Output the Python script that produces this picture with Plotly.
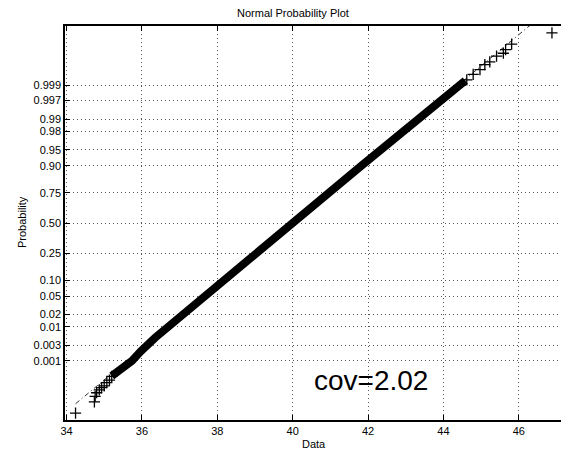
import plotly.graph_objects as go
from statistics import NormalDist

nd = NormalDist()

# ---- data ----
prob_ticks = [0.001, 0.003, 0.01, 0.02, 0.05, 0.10, 0.25, 0.50, 0.75, 0.90, 0.95, 0.98, 0.99, 0.997, 0.999]
prob_labels = ["0.001", "0.003", "0.01", "0.02", "0.05", "0.10", "0.25", "0.50", "0.75", "0.90",
               "0.95", "0.98", "0.99", "0.997", "0.999"]
x_ticks = [34, 36, 38, 40, 42, 44, 46]

# isolated points in the lower tail
low_tail_x = [34.24, 34.74, 34.76, 34.80, 34.87, 34.93, 35.00, 35.07, 35.14, 35.20]
low_tail_p = [0.00001, 0.00003, 0.00005, 0.00007, 0.00009, 0.00011, 0.00013, 0.00017, 0.00021, 0.00029]

# dense body of the sorted sample
body_p = [0.0003, 0.0005, 0.0007, 0.001, 0.002, 0.003, 0.005, 0.01, 0.02, 0.05, 0.10, 0.25, 0.50,
          0.75, 0.90, 0.95, 0.98, 0.99, 0.995, 0.997, 0.998, 0.999, 0.9993]
body_x = [35.20, 35.42, 35.58, 35.74, 35.97, 36.12, 36.35, 36.70, 37.08, 37.66, 38.18, 39.04, 40.00,
          40.96, 41.82, 42.34, 42.92, 43.30, 43.66, 43.93, 44.14, 44.42, 44.58]

# isolated points in the upper tail
high_tail_x = [44.62, 44.79, 44.97, 45.10, 45.23, 45.41, 45.59, 45.65, 45.81, 46.88]
high_tail_p = [0.99934, 0.99957, 0.99971, 0.99981, 0.99985, 0.99991, 0.99993, 0.99995, 0.99997, 0.99999]

# reference (fitted normal) line
ref_mean = 40.0
ref_sigma = 1.42
ref_x = [34.24, 46.88]

annot_text = "cov=2.02"


def zq(ps):
    return [nd.inv_cdf(p) for p in ps]


fig = go.Figure()

# reference line (dash-dot)
fig.add_trace(go.Scatter(
    x=ref_x, y=[(v - ref_mean) / ref_sigma for v in ref_x], mode="lines",
    line=dict(color="#333333", width=1, dash="5px,3px,1px,3px"),
    hoverinfo="skip", showlegend=False))

# dense body
fig.add_trace(go.Scatter(
    x=body_x, y=zq(body_p), mode="lines",
    line=dict(color="black", width=8), showlegend=False))

# tails
cross = dict(symbol="cross-thin", size=8, line=dict(color="black", width=1.3), color="black")
fig.add_trace(go.Scatter(x=low_tail_x, y=zq(low_tail_p), mode="markers", marker=cross, showlegend=False))
fig.add_trace(go.Scatter(x=high_tail_x, y=zq(high_tail_p), mode="markers", marker=cross, showlegend=False))

font = dict(family="Liberation Sans, Arial, sans-serif", size=11, color="black")
grid_dash = "1px,3px"

W, H = 561, 451
L, R, T, B = 65, 0, 26, 31

fig.update_layout(
    width=W, height=H,
    margin=dict(l=L, r=R, t=T, b=B),
    paper_bgcolor="white", plot_bgcolor="white",
    font=font,
    showlegend=False,
    xaxis=dict(
        range=[33.96, 47.12], tickvals=x_ticks, ticktext=[str(v) for v in x_ticks],
        ticks="inside", ticklen=5, tickcolor="black", mirror="ticks",
        showline=True, linecolor="black", linewidth=1.5,
        showgrid=True, gridcolor="#555555", gridwidth=1, griddash=grid_dash,
        zeroline=False, tickfont=font,
    ),
    yaxis=dict(
        range=[-4.42, 4.42], tickvals=zq(prob_ticks), ticktext=prob_labels,
        ticks="inside", ticklen=5, tickcolor="black",
        showline=True, linecolor="black", linewidth=1.5,
        showgrid=True, gridcolor="#555555", gridwidth=1, griddash=grid_dash,
        zeroline=False, tickfont=font,
    ),
)

pw, ph = W - L - R, H - T - B


def ann(text, px, py, size=11, angle=0):
    # px, py: pixel position of the text centre measured from the top-left corner
    return dict(text=text, xref="paper", yref="paper",
                x=(px - L) / pw, y=(H - py - B) / ph,
                xanchor="center", yanchor="middle", textangle=angle, showarrow=False,
                font=dict(family="Liberation Sans, Arial, sans-serif", size=size, color="black"))


fig.update_layout(annotations=[
    ann("Normal Probability Plot", 293, 13),
    ann("Data", 314, 444),
    ann("Probability", 22, 222, angle=-90),
    ann(annot_text, 371, 380, size=28),
])

fig.write_html("out.html", config={"displayModeBar": False},
               post_script="document.body.style.margin='0';document.body.style.padding='0';")
